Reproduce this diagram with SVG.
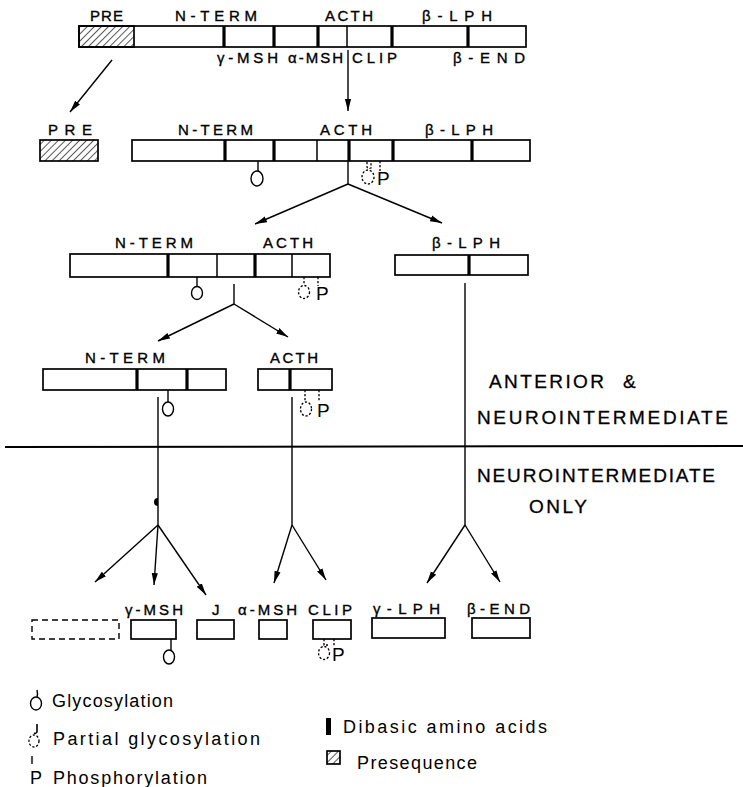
<svg xmlns="http://www.w3.org/2000/svg" width="743" height="787" viewBox="0 0 743 787">
<style>
.box{fill:#fff;stroke:#000;stroke-width:1.7}
.hat{fill:url(#hatch);stroke:#000;stroke-width:1.7}
.dbox{fill:none;stroke:#000;stroke-width:1.4;stroke-dasharray:6 4}
.div{stroke:#000;stroke-width:3.2}
.thin{stroke:#000;stroke-width:1.5}
.ln{stroke:#000;stroke-width:1.4;fill:none}
.arr{stroke:#000;stroke-width:1.4;fill:none;marker-end:url(#ah)}
.gly{fill:none;stroke:#000;stroke-width:1.4}
.pgly{fill:none;stroke:#000;stroke-width:1.3;stroke-dasharray:2.2 1.8}
.lbl{font-family:"Liberation Sans",Arial,sans-serif;font-size:15px;fill:#000;stroke:#000;stroke-width:0.35}
.p{font-family:"Liberation Sans",Arial,sans-serif;font-size:19px;fill:#000}
.big{font-family:"Liberation Sans",Arial,sans-serif;font-size:19px;fill:#000;stroke:#000;stroke-width:0.3}
.leg{font-family:"Liberation Sans",Arial,sans-serif;font-size:18px;fill:#000}
</style>
<defs>
<pattern id="hatch" patternUnits="userSpaceOnUse" width="5" height="5" patternTransform="rotate(45)">
<line x1="0" y1="0" x2="0" y2="5" stroke="#000" stroke-width="1.3"/>
</pattern>
<marker id="ah" markerUnits="userSpaceOnUse" markerWidth="14" markerHeight="8" refX="12" refY="4" orient="auto">
<path d="M0,0.9 L12,4 L0,7.1 z" fill="#000"/>
</marker>
</defs>
<rect width="743" height="787" fill="#fff"/>

<g id="connectors">
<line class="arr" x1="112" y1="60" x2="70" y2="112"/>
<line class="arr" x1="348" y1="50" x2="348" y2="111"/>
<line class="ln" x1="348" y1="161" x2="348" y2="184"/>
<line class="arr" x1="348" y1="184" x2="255" y2="224"/>
<line class="arr" x1="348" y1="184" x2="442" y2="223"/>
<line class="ln" x1="234" y1="284" x2="234" y2="304"/>
<line class="arr" x1="234" y1="304" x2="158" y2="341"/>
<line class="arr" x1="234" y1="304" x2="288" y2="337"/>
<line class="ln" x1="158" y1="397" x2="158" y2="525"/>
<path d="M158,498 A4,4 0 0 0 158,506 z" fill="#000"/>
<line class="arr" x1="158" y1="525" x2="95" y2="582"/>
<line class="arr" x1="158" y1="525" x2="154" y2="585"/>
<line class="arr" x1="158" y1="525" x2="206" y2="595"/>
<line class="ln" x1="292" y1="397" x2="292" y2="525"/>
<line class="arr" x1="292" y1="525" x2="274" y2="583"/>
<line class="arr" x1="292" y1="525" x2="326" y2="580"/>
<line class="ln" x1="465" y1="283" x2="465" y2="525"/>
<line class="arr" x1="465" y1="525" x2="427" y2="583"/>
<line class="arr" x1="465" y1="525" x2="500" y2="582"/>
<line x1="5" y1="447" x2="743" y2="446" stroke="#000" stroke-width="2"/>
</g>

<g id="precursor">
<rect class="box" x="79" y="26" width="447" height="21"/>
<rect class="hat" x="79" y="26" width="55" height="21"/>
<line class="div" x1="224" y1="26" x2="224" y2="47"/>
<line class="div" x1="274" y1="26" x2="274" y2="47"/>
<line class="div" x1="318" y1="26" x2="318" y2="47"/>
<line class="thin" x1="347" y1="26" x2="347" y2="47"/>
<line class="div" x1="392" y1="26" x2="392" y2="47"/>
<line class="div" x1="468" y1="26" x2="468" y2="47"/>
<text class="lbl" x="90" y="21" textLength="33" lengthAdjust="spacing">PRE</text>
<text class="lbl" x="175" y="21" textLength="82" lengthAdjust="spacing">N-TERM</text>
<text class="lbl" x="325" y="21" textLength="48" lengthAdjust="spacing">ACTH</text>
<text class="lbl" x="422" y="21" textLength="70" lengthAdjust="spacing">β-LPH</text>
<text class="lbl" x="217" y="63" textLength="61" lengthAdjust="spacing">γ-MSH</text>
<text class="lbl" x="288" y="63" textLength="55" lengthAdjust="spacing">α-MSH</text>
<text class="lbl" x="352" y="63" textLength="45" lengthAdjust="spacing">CLIP</text>
<text class="lbl" x="453" y="63" textLength="72" lengthAdjust="spacing">β-END</text>
</g>

<g id="pre-cleaved">
<rect class="hat" x="40" y="140" width="58" height="21"/>
<text class="lbl" x="48" y="135" textLength="44" lengthAdjust="spacing">PRE</text>
</g>

<g id="pro-pomc">
<rect class="box" x="132" y="140" width="398" height="21"/>
<line class="div" x1="225" y1="140" x2="225" y2="161"/>
<line class="div" x1="274" y1="140" x2="274" y2="161"/>
<line class="thin" x1="317" y1="140" x2="317" y2="161"/>
<line class="div" x1="349" y1="140" x2="349" y2="161"/>
<line class="div" x1="393" y1="140" x2="393" y2="161"/>
<line class="div" x1="472" y1="140" x2="472" y2="161"/>
<text class="lbl" x="178" y="135" textLength="75" lengthAdjust="spacing">N-TERM</text>
<text class="lbl" x="320" y="135" textLength="52" lengthAdjust="spacing">ACTH</text>
<text class="lbl" x="425" y="135" textLength="68" lengthAdjust="spacing">β-LPH</text>
<line class="ln" x1="258" y1="161" x2="258" y2="171"/>
<ellipse class="gly" cx="257" cy="178.5" rx="6" ry="7.5"/>
<path class="pgly" d="M367,162 L367,167 Q368,169 371,168 L371,162"/>
<ellipse class="pgly" cx="368" cy="177" rx="6" ry="7"/>
<line class="pgly" x1="380" y1="161" x2="380" y2="171"/>
<text class="p" x="377" y="185">P</text>
</g>

<g id="nterm-acth">
<rect class="box" x="70" y="254" width="260" height="23"/>
<line class="div" x1="168" y1="254" x2="168" y2="277"/>
<line class="thin" x1="217" y1="254" x2="217" y2="277"/>
<line class="div" x1="255" y1="254" x2="255" y2="277"/>
<line class="thin" x1="292" y1="254" x2="292" y2="277"/>
<text class="lbl" x="115" y="248" textLength="78" lengthAdjust="spacing">N-TERM</text>
<text class="lbl" x="263" y="248" textLength="50" lengthAdjust="spacing">ACTH</text>
<line class="ln" x1="197" y1="277" x2="197" y2="287"/>
<ellipse class="gly" cx="197" cy="293" rx="5.5" ry="6.5"/>
<line class="pgly" x1="304" y1="277" x2="304" y2="285"/>
<ellipse class="pgly" cx="304" cy="292" rx="5.5" ry="6.5"/>
<line class="pgly" x1="318" y1="277" x2="318" y2="286"/>
<text class="p" x="316" y="300">P</text>
</g>

<g id="beta-lph">
<rect class="box" x="395" y="255" width="133" height="20"/>
<line class="div" x1="469" y1="255" x2="469" y2="275"/>
<text class="lbl" x="432" y="248" textLength="68" lengthAdjust="spacing">β-LPH</text>
</g>

<g id="nterm">
<rect class="box" x="43" y="369" width="183" height="21"/>
<line class="div" x1="137" y1="369" x2="137" y2="390"/>
<line class="div" x1="187" y1="369" x2="187" y2="390"/>
<text class="lbl" x="85" y="363" textLength="80" lengthAdjust="spacing">N-TERM</text>
<line class="ln" x1="168" y1="390" x2="168" y2="402"/>
<ellipse class="gly" cx="168" cy="409" rx="5.5" ry="7"/>
</g>

<g id="acth">
<rect class="box" x="258" y="369" width="74" height="21"/>
<line class="div" x1="290" y1="369" x2="290" y2="390"/>
<text class="lbl" x="270" y="363" textLength="48" lengthAdjust="spacing">ACTH</text>
<line class="pgly" x1="305" y1="390" x2="305" y2="401"/>
<ellipse class="pgly" cx="306" cy="409" rx="5.5" ry="7"/>
<line class="pgly" x1="319" y1="390" x2="319" y2="401"/>
<text class="p" x="317" y="417">P</text>
</g>

<g id="region-labels">
<text class="big" x="489" y="388" textLength="115" lengthAdjust="spacing">ANTERIOR</text>
<text class="big" x="623" y="388">&amp;</text>
<text class="big" x="477" y="424" textLength="251" lengthAdjust="spacing">NEUROINTERMEDIATE</text>
<text class="big" x="477" y="482" textLength="238" lengthAdjust="spacing">NEUROINTERMEDIATE</text>
<text class="big" x="529" y="513" textLength="58" lengthAdjust="spacing">ONLY</text>
</g>

<g id="unknown">
<rect class="dbox" x="32" y="620" width="87" height="19"/>
</g>
<g id="gamma-msh">
<rect class="box" x="131" y="620" width="45" height="19"/>
<text class="lbl" x="125" y="615" textLength="58" lengthAdjust="spacing">γ-MSH</text>
<line class="ln" x1="171" y1="639" x2="171" y2="650"/>
<ellipse class="gly" cx="169" cy="657" rx="5.5" ry="7"/>
</g>
<g id="j">
<rect class="box" x="197" y="620" width="37" height="19"/>
<text class="lbl" x="212" y="615">J</text>
</g>
<g id="alpha-msh">
<rect class="box" x="259" y="620" width="28" height="19"/>
<text class="lbl" x="238" y="615" textLength="59" lengthAdjust="spacing">α-MSH</text>
</g>
<g id="clip">
<rect class="box" x="313" y="620" width="38" height="19"/>
<text class="lbl" x="308" y="615" textLength="44" lengthAdjust="spacing">CLIP</text>
<path class="pgly" d="M324,639 L324,645 L328,645"/>
<ellipse class="pgly" cx="324" cy="653" rx="5.5" ry="6.5"/>
<line class="pgly" x1="334" y1="639" x2="334" y2="647"/>
<text class="p" x="332" y="661">P</text>
</g>
<g id="gamma-lph">
<rect class="box" x="372" y="618" width="73" height="20"/>
<text class="lbl" x="373" y="614" textLength="67" lengthAdjust="spacing">γ-LPH</text>
</g>
<g id="beta-end">
<rect class="box" x="472" y="618" width="58" height="20"/>
<text class="lbl" x="467" y="614" textLength="63" lengthAdjust="spacing">β-END</text>
</g>

<g id="legend">
<path class="gly" d="M37,690 Q38,694 37,697"/>
<ellipse class="gly" cx="36" cy="703.5" rx="5.5" ry="6.5"/>
<text class="leg" x="52" y="707" textLength="121" lengthAdjust="spacing">Glycosylation</text>
<path d="M37,724 L37,732 Q36,734 34,733" fill="none" stroke="#000" stroke-width="1.6"/>
<ellipse class="pgly" cx="34" cy="741" rx="5" ry="6"/>
<text class="leg" x="53" y="745" textLength="207" lengthAdjust="spacing">Partial glycosylation</text>
<line class="ln" x1="32" y1="756" x2="32" y2="764"/>
<text class="leg" x="30" y="784">P</text>
<text class="leg" x="53" y="784" textLength="154" lengthAdjust="spacing">Phosphorylation</text>
<rect x="326" y="718" width="5" height="17" fill="#000"/>
<text class="leg" x="343" y="733" textLength="204" lengthAdjust="spacing">Dibasic amino acids</text>
<rect class="hat" x="327" y="751" width="13" height="13" stroke-width="1.3"/>
<text class="leg" x="357" y="769" textLength="120" lengthAdjust="spacing">Presequence</text>
</g>
</svg>
